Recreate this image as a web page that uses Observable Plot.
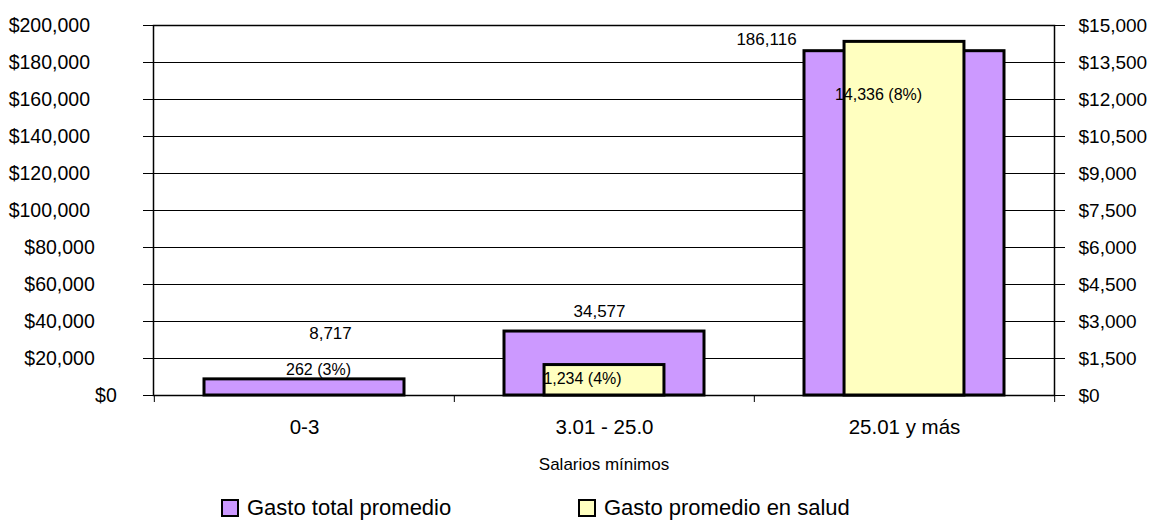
<!DOCTYPE html>
<html>
<head>
<meta charset="utf-8">
<script src="https://cdn.jsdelivr.net/npm/d3@7"></script>
<script src="https://cdn.jsdelivr.net/npm/@observablehq/plot@0.6"></script>
<style>
  html, body { margin: 0; padding: 0; background: #fff; }
  body { width: 1151px; height: 521px; overflow: hidden; font-family: "Liberation Sans", Arial, sans-serif; }
  #legend { position: relative; height: 36px; font-size: 22px; color: #000; }
  .item { position: absolute; top: 10px; display: flex; align-items: center; line-height: 26px; }
  .sw { width: 14px; height: 14px; border: 2px solid #000; margin-right: 8px; }
</style>
</head>
<body>
<div id="chart"></div>
<div id="legend"></div>
<script>
// ---- data ----
const categories = ["0-3", "3.01 - 25.0", "25.01 y más"];
const gastoTotal = [8717, 34577, 186116];
const gastoSalud = [262, 1234, 14336];
const saludPct = [3, 4, 8];
const leftTicks = [0, 20000, 40000, 60000, 80000, 100000, 120000, 140000, 160000, 180000, 200000];
const rightTicks = [0, 1500, 3000, 4500, 6000, 7500, 9000, 10500, 12000, 13500, 15000];
const seriesNames = ["Gasto total promedio", "Gasto promedio en salud"];
const xLabel = "Salarios mínimos";

// ---- layout / style ----
const W = 1151, H = 485, ML = 153, MR = 97, MT = 25, MB = 90;
const step = (W - ML - MR) / categories.length;
const purple = "#CC99FF", yellow = "#FFFFC0";
const font = '"Liberation Sans", Arial, sans-serif';
const k = leftTicks[leftTicks.length - 1] / rightTicks[rightTicks.length - 1];
// label offsets [dx, dy] relative to bar tops (Excel placement)
const totalOff = [[26, -46], [-5, -20], [-138, -12]];
const saludOff = [[14, -19], [-22, 14], [-26, 53]];

const rows = categories.map((c, i) => ({cat: c, total: gastoTotal[i], salud: gastoSalud[i], pct: saludPct[i], i}));
const fmt = d3.format(",");

const labelMarks = [];
rows.forEach((r, i) => {
  labelMarks.push(Plot.text([r], {x: "cat", y: "total", text: d => fmt(d.total), dx: totalOff[i][0], dy: totalOff[i][1], fontSize: 17, fill: "#000"}));
  labelMarks.push(Plot.text([r], {x: "cat", y: d => d.salud * k, text: d => `${fmt(d.salud)} (${d.pct}%)`, dx: saludOff[i][0], dy: saludOff[i][1], fontSize: 16, fill: "#000"}));
});

const chart = Plot.plot({
  width: W, height: H,
  marginLeft: ML, marginRight: MR, marginTop: MT, marginBottom: MB,
  style: {fontFamily: font, fontSize: "19px", color: "#000", background: "#fff", overflow: "visible"},
  x: {domain: categories, paddingInner: 1/3, paddingOuter: 1/6, label: null, axis: null},
  y: {domain: [0, leftTicks[leftTicks.length - 1]], label: null, axis: null},
  marks: [
    Plot.gridY(leftTicks, {stroke: "#000", strokeOpacity: 1, strokeWidth: 1}),
    Plot.barY(rows, {x: "cat", y: "total", fill: purple, stroke: "#000", strokeWidth: 3}),
    Plot.barY(rows.filter(d => d.i > 0), {x: "cat", y: d => d.salud * k, fill: yellow, stroke: "#000", strokeWidth: 3, insetLeft: step * 2/15, insetRight: step * 2/15}),
    Plot.frame({stroke: "#000", strokeWidth: 1.5}),
    Plot.axisY(leftTicks, {anchor: "left", tickSize: 10, tickPadding: 17, tickFormat: d => "$" + fmt(d), label: null, fontSize: 19.5, stroke: "#000"}),
    Plot.axisY(leftTicks, {anchor: "right", tickSize: 10, tickPadding: 14, tickFormat: d => "$" + fmt(d / k), label: null, fontSize: 19, stroke: "#000"}),
    Plot.axisX(categories, {tickSize: 7, dx: -step / 2, tickFormat: () => "", label: null, stroke: "#000"}),
    Plot.axisX([categories[categories.length - 1]], {tickSize: 7, dx: step / 2, tickFormat: () => "", label: null, stroke: "#000"}),
    Plot.text(categories, {x: d => d, frameAnchor: "bottom", dy: 38, fontSize: 20.5, fill: "#000"}),
    Plot.text([xLabel], {frameAnchor: "bottom", dy: 74, fontSize: 17, fill: "#000"}),
    ...labelMarks
  ]
});
document.getElementById("chart").appendChild(chart);

// Excel-like placement of the left tick labels (longer labels sit further left)
const tickGroups = chart.querySelectorAll('g[aria-label="y-axis tick label"]');
tickGroups.forEach(g => {
  if (g.getAttribute("text-anchor") === "end" || g.querySelector('text')?.getAttribute("text-anchor") === "end") {
    g.querySelectorAll("text").forEach(t => {
      const w = t.getComputedTextLength();
      t.setAttribute("dx", (-0.449 * w).toFixed(1));
    });
  }
});

// legend
const legend = document.getElementById("legend");
const legendX = [221, 578];
[purple, yellow].forEach((c, i) => {
  const it = document.createElement("div");
  it.className = "item";
  it.style.left = legendX[i] + "px";
  it.innerHTML = `<div class="sw" style="background:${c}"></div><span>${seriesNames[i]}</span>`;
  legend.appendChild(it);
});
</script>
</body>
</html>
